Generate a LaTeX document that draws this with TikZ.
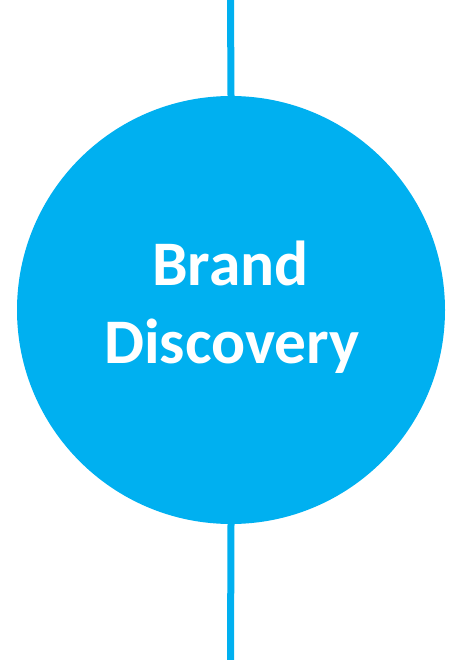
\documentclass[tikz,border=0pt]{standalone}
\usepackage{fontspec}
\setmainfont{Carlito}
\definecolor{brandblue}{RGB}{0,176,240}
\begin{document}
\begin{tikzpicture}[x=1pt,y=-1pt,
  bubble/.style={circle,fill=brandblue,draw=none,minimum size=428pt,inner sep=0pt},
  connector/.style={draw=brandblue,line width=7pt},
  label/.style={text=white,font=\fontsize{63.5}{82}\selectfont\bfseries,inner sep=0pt,anchor=base}]
\useasboundingbox (0,0) rectangle (462,660);
\coordinate (top) at (230.5,0);
\coordinate (bot) at (230.5,660);
\node[bubble] (c) at (231,310) {};
\draw[connector] (top) -- (c.north);
\draw[connector] (c.south) -- (bot);
\node[label] (l1) at (230.5,285) {Brand};
\node[label] (l2) at (232,363) {Discovery};
\end{tikzpicture}
\end{document}
